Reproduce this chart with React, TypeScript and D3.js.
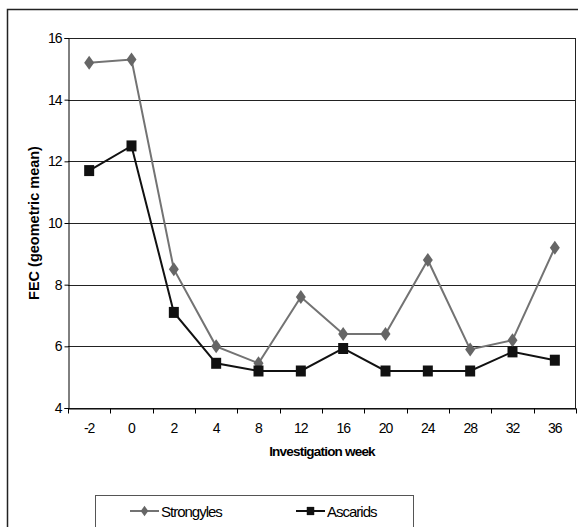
import { useEffect, useRef } from "react"
import * as d3 from "d3"

const weeks = ["-2", "0", "2", "4", "8", "12", "16", "20", "24", "28", "32", "36"]
const strongyles = [15.2, 15.3, 8.5, 6.0, 5.45, 7.6, 6.4, 6.4, 8.8, 5.9, 6.2, 9.2]
const ascarids = [11.7, 12.5, 7.1, 5.45, 5.2, 5.2, 5.93, 5.2, 5.2, 5.2, 5.82, 5.55]
const yTicks = [4, 6, 8, 10, 12, 14, 16]

export default function App() {
    const svgRef = useRef(null)
    const width = 578, height = 527

    useEffect(() => {
        const margin = { top: 38, right: 2, bottom: 119, left: 68 },
            wt = width - margin.left - margin.right,
            ht = height - margin.top - margin.bottom

        d3.select(svgRef.current).selectAll("*").remove()

        const root = d3.select(svgRef.current)
            .attr("width", width)
            .attr("height", height)
            .style("font-family", "'Liberation Sans', Arial, sans-serif")

        // outer frame
        root.append("rect")
            .attr("x", 7.5).attr("y", 9.5)
            .attr("width", 600).attr("height", 600)
            .attr("fill", "#fff")
            .attr("stroke", "#222")
            .attr("stroke-width", 1.5)

        const svg = root.append("g")
            .attr("transform", `translate(${margin.left},${margin.top})`)

        const x = d3.scaleBand().domain(weeks).range([0, wt])
        const y = d3.scaleLinear().domain([4, 16]).range([ht, 0])

        // gridlines
        svg.append("g")
            .selectAll("line")
            .data(yTicks)
            .join("line")
                .attr("x1", 0).attr("x2", wt)
                .attr("y1", d => Math.round(y(d)) + 0.5)
                .attr("y2", d => Math.round(y(d)) + 0.5)
                .attr("stroke", "#222")

        // right border
        svg.append("line")
            .attr("x1", wt - 0.5).attr("x2", wt - 0.5)
            .attr("y1", 0).attr("y2", ht)
            .attr("stroke", "#222")

        // y axis
        const yAxis = svg.append("g")
            .attr("transform", "translate(0.5,0)")
            .call(d3.axisLeft(y).tickValues(yTicks).tickSize(4).tickPadding(3))
        yAxis.select(".domain").attr("stroke", "#000")
        yAxis.selectAll("text")
            .style("font-size", "14px")
            .style("letter-spacing", "-1px")
            .style("font-family", "'Liberation Sans', Arial, sans-serif")
            .attr("fill", "#000")

        // x axis
        const xAxis = svg.append("g")
            .attr("transform", `translate(0, ${Math.round(y(4)) + 0.5})`)
            .call(d3.axisBottom(x).tickSize(0).tickPadding(15))
        xAxis.select(".domain").attr("stroke", "#000")
        xAxis.selectAll("text")
            .style("font-size", "14px")
            .style("letter-spacing", "-1px")
            .style("font-family", "'Liberation Sans', Arial, sans-serif")
            .attr("fill", "#000")
        xAxis.selectAll(".bound")
            .data(d3.range(weeks.length + 1))
            .join("line")
                .attr("class", "bound")
                .attr("x1", i => Math.round(i * x.bandwidth()) + 0.5)
                .attr("x2", i => Math.round(i * x.bandwidth()) + 0.5)
                .attr("y1", 0).attr("y2", 5)
                .attr("stroke", "#000")

        const cx = d => x(d) + x.bandwidth() / 2

        const series = [
            { name: "Strongyles", values: strongyles, color: "#737373" },
            { name: "Ascarids", values: ascarids, color: "#111" }
        ]

        series.forEach(s => {
            const line = d3.line()
                .x((d, i) => cx(weeks[i]))
                .y(d => y(d))
            svg.append("path")
                .datum(s.values)
                .attr("d", line)
                .attr("fill", "none")
                .attr("stroke", s.color)
                .attr("stroke-width", 2)
        })

        const diamond = "M0,-7L5,0L0,7L-5,0Z"
        const square = "M-5,-5.5H5V5.5H-5Z"

        svg.append("g").selectAll("path")
            .data(strongyles)
            .join("path")
                .attr("d", diamond)
                .attr("transform", (d, i) => `translate(${cx(weeks[i])},${y(d)})`)
                .attr("fill", "#666")

        svg.append("g").selectAll("path")
            .data(ascarids)
            .join("path")
                .attr("d", square)
                .attr("transform", (d, i) => `translate(${cx(weeks[i])},${y(d)})`)
                .attr("fill", "#111")

        // x-axis label
        svg.append("text")
            .attr("text-anchor", "middle")
            .attr("x", wt / 2)
            .attr("y", ht + 48)
            .style("font-size", "13.5px")
            .style("font-weight", "bold")
            .style("letter-spacing", "-0.8px")
            .attr("fill", "#000")
            .text("Investigation week")

        // y-axis label
        svg.append("text")
            .attr("text-anchor", "middle")
            .attr("transform", "rotate(-90)")
            .attr("x", -ht / 2)
            .attr("y", -margin.left + 39)
            .style("font-size", "14.5px")
            .style("font-weight", "bold")
            .attr("fill", "#000")
            .text("FEC (geometric mean)")

        // legend
        const legend = root.append("g")
        legend.append("rect")
            .attr("x", 95.5).attr("y", 495.5)
            .attr("width", 318).attr("height", 60)
            .attr("fill", "#fff")
            .attr("stroke", "#555")

        const items = [
            { name: "Strongyles", x0: 130, color: "#737373", mark: diamond, fill: "#666" },
            { name: "Ascarids", x0: 296, color: "#111", mark: square, fill: "#111" }
        ]
        items.forEach(it => {
            legend.append("line")
                .attr("x1", it.x0).attr("x2", it.x0 + 29)
                .attr("y1", 511).attr("y2", 511)
                .attr("stroke", it.color)
                .attr("stroke-width", 2)
            legend.append("path")
                .attr("d", it.mark)
                .attr("transform", `translate(${it.x0 + 14.5},511) scale(0.75)`)
                .attr("fill", it.fill)
            legend.append("text")
                .attr("x", it.x0 + 31)
                .attr("y", 516.5)
                .style("font-size", "15px")
                .style("letter-spacing", "-1px")
                .attr("fill", "#000")
                .text(it.name)
        })
    }, [])

    return (
        <svg ref={svgRef} style={{ position: "absolute", left: 0, top: 0 }}></svg>
    )
}
